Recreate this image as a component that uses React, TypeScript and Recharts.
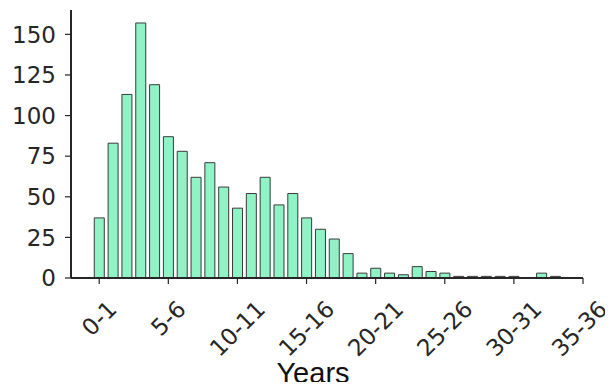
import React from 'react';
import { BarChart, Bar, XAxis, YAxis, Label } from 'recharts';

// year bins, one per bar
const YEAR_BINS = [
  '0-1', '1-2', '2-3', '3-4', '4-5', '5-6', '6-7', '7-8', '8-9', '9-10',
  '10-11', '11-12', '12-13', '13-14', '14-15', '15-16', '16-17', '17-18', '18-19', '19-20',
  '20-21', '21-22', '22-23', '23-24', '24-25', '25-26', '26-27', '27-28', '28-29', '29-30',
  '30-31', '31-32', '32-33', '33-34', '34-35', '35-36',
];

const COUNTS = [
  37, 83, 113, 157, 119, 87, 78, 62, 71, 56,
  43, 52, 62, 45, 52, 37, 30, 24, 15, 3,
  6, 3, 2, 7, 4, 3, 1, 1, 1, 1,
  1, 0, 3, 1, 0, 0,
];

const X_TICKS = [0, 5, 10, 15, 20, 25, 30, 35];
const Y_TICKS = [0, 25, 50, 75, 100, 125, 150];

const data = YEAR_BINS.map((bin, i) => ({ idx: i, bin, count: COUNTS[i] }));

const AXIS_COLOR = '#262626';
const TICK_FONT = 23;
const WIDTH = 613;

const XTick = (props: any) => {
  const { x, y, payload } = props;
  const label = YEAR_BINS[payload.value] ?? '';
  // rough DejaVu Sans widths to centre the rotated box under the tick
  const w = [...label].reduce((s, c) => s + (c === '-' ? 0.361 : 0.636), 0) * TICK_FONT;
  const h = 0.73 * TICK_FONT;
  const half = (w + h) / (2 * Math.SQRT2);
  const cx = Math.min(x, WIDTH - 4 - half); // keep the last label inside the page
  const cy = y + half;
  return (
    <text
      x={cx}
      y={cy}
      transform={`rotate(-45 ${cx} ${cy})`}
      textAnchor="middle"
      dominantBaseline="central"
      fontSize={TICK_FONT}
      fontFamily="DejaVu Sans"
      fill={AXIS_COLOR}
    >
      {label}
    </text>
  );
};

export default function App() {
  return (
    <div style={{ margin: -8, width: WIDTH, height: 390, background: '#fff', fontFamily: 'DejaVu Sans' }}>
      <BarChart
        width={WIDTH}
        height={390}
        data={data}
        margin={{ top: 10, right: 30, left: 0, bottom: 0 }}
      >
        <XAxis
          dataKey="idx"
          type="number"
          domain={[-2.04, 35]}
          allowDataOverflow
          ticks={X_TICKS}
          interval={0}
          height={112}
          tick={<XTick />}
          tickSize={6}
          tickMargin={15}
          stroke={AXIS_COLOR}
          axisLine={{ stroke: AXIS_COLOR, strokeWidth: 2 }}
          tickLine={{ stroke: AXIS_COLOR, strokeWidth: 1.2 }}
        >
          <Label
            value="Years"
            position="insideBottom"
            offset={7}
            dx={-14}
            style={{ fontSize: 29, fontFamily: 'Liberation Sans', fill: '#111' }}
          />
        </XAxis>
        <YAxis
          width={71}
          domain={[0, 165]}
          ticks={Y_TICKS}
          interval={0}
          tickSize={6}
          tickMargin={9}
          tick={{ fontSize: TICK_FONT, fill: AXIS_COLOR, fontFamily: 'DejaVu Sans' }}
          axisLine={{ stroke: AXIS_COLOR, strokeWidth: 2 }}
          tickLine={{ stroke: AXIS_COLOR, strokeWidth: 1.2 }}
        />
        <Bar
          dataKey="count"
          fill="#8ff3c6"
          stroke="#3a3a3a"
          strokeWidth={1}
          barSize={10}
          isAnimationActive={false}
        />
      </BarChart>
    </div>
  );
}
